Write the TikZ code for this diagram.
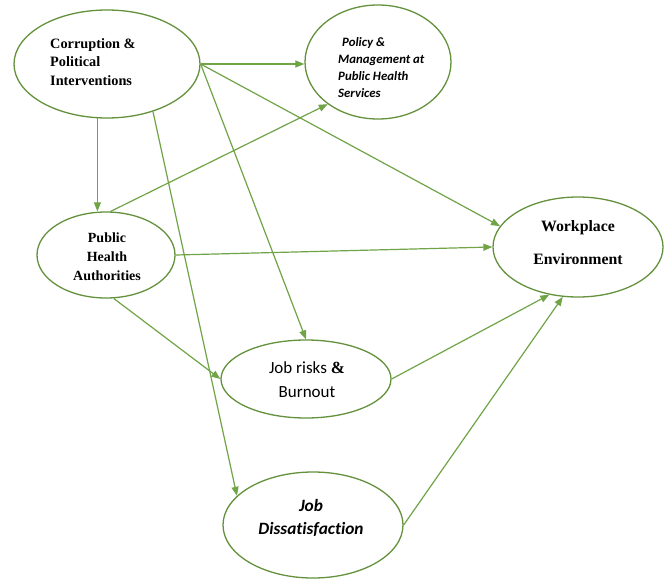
\documentclass[tikz,border=0pt]{standalone}
\usepackage{fontspec}
\setmainfont{Liberation Serif}
\newfontfamily\carl[Ligatures=NoCommon]{Carlito}
\usetikzlibrary{shapes.geometric,arrows.meta}
\definecolor{gline}{RGB}{112,164,70}
\definecolor{gedge}{RGB}{100,145,60}
\tikzset{
  oval/.style={ellipse,draw=gedge,line width=1.3pt,inner sep=0pt},
  conn/.style={draw=gline,line width=1.2pt,-{Triangle[length=9pt,width=7pt]}},
  lbl/.style={inner sep=0pt,text=black}
}
\begin{document}
\begin{tikzpicture}[x=1pt,y=-1pt]
\useasboundingbox[fill=white] (0,0) rectangle (668,578);
% ellipses
\node[oval,minimum width=186pt,minimum height=108pt] (corr) at (107,64) {};
\node[oval,minimum width=146pt,minimum height=114pt] (pol) at (378,62) {};
\node[oval,minimum width=138pt,minimum height=86pt] (pha) at (106,255) {};
\node[oval,minimum width=170pt,minimum height=100pt] (ws) at (578,247) {};
\node[oval,minimum width=170pt,minimum height=78pt] (jr) at (306,379) {};
\node[oval,minimum width=180pt,minimum height=106pt] (jd) at (313,525) {};
% texts
\node[lbl,anchor=west,align=left,font=\bfseries\fontsize{14.3}{18.5}\selectfont] (corrt) at (50,62) {Corruption \&\\Political\\Interventions};
\node[lbl,anchor=west,align=left,font=\carl\bfseries\itshape\fontsize{12.8}{17}\selectfont] (polt) at (338,68) {\hspace{4pt}Policy \&\\Management at\\Public Health\\Services};
\node[lbl,align=center,font=\bfseries\fontsize{14}{19}\selectfont] (phat) at (107,257) {Public\\Health\\Authorities};
\node[lbl,align=center,font=\bfseries\fontsize{15.8}{33}\selectfont] (wst) at (578,243) {Workplace\\Environment};
\node[lbl,align=center,font=\carl\fontsize{17}{24}\selectfont] (jrt) at (307,380) {Job risks {\rmfamily\bfseries\&}\\Burnout};
\node[lbl,align=center,font=\carl\bfseries\itshape\fontsize{17.3}{23}\selectfont] (jdt) at (311,518) {Job\\Dissatisfaction};
% connectors
\draw[conn] (corr.east) -- (pol.west |- corr.east);
\draw[conn] (corr.east) -- (ws.165);
\draw[conn] (corr.east) -- (jr.north);
\draw[conn] (corr.-100) -- (corr.-100 |- pha.north);
\draw[conn] (corr.-46) -- (jd.159);
\draw[conn] (pha.84) -- (pol.-140);
\draw[conn] (pha.east) -- (ws.west);
\draw[conn] (pha.-80) -- (jr.west);
\draw[conn] (jr.east) -- (ws.-121);
\draw[conn] (jd.east) -- (ws.-107);
\end{tikzpicture}
\end{document}
